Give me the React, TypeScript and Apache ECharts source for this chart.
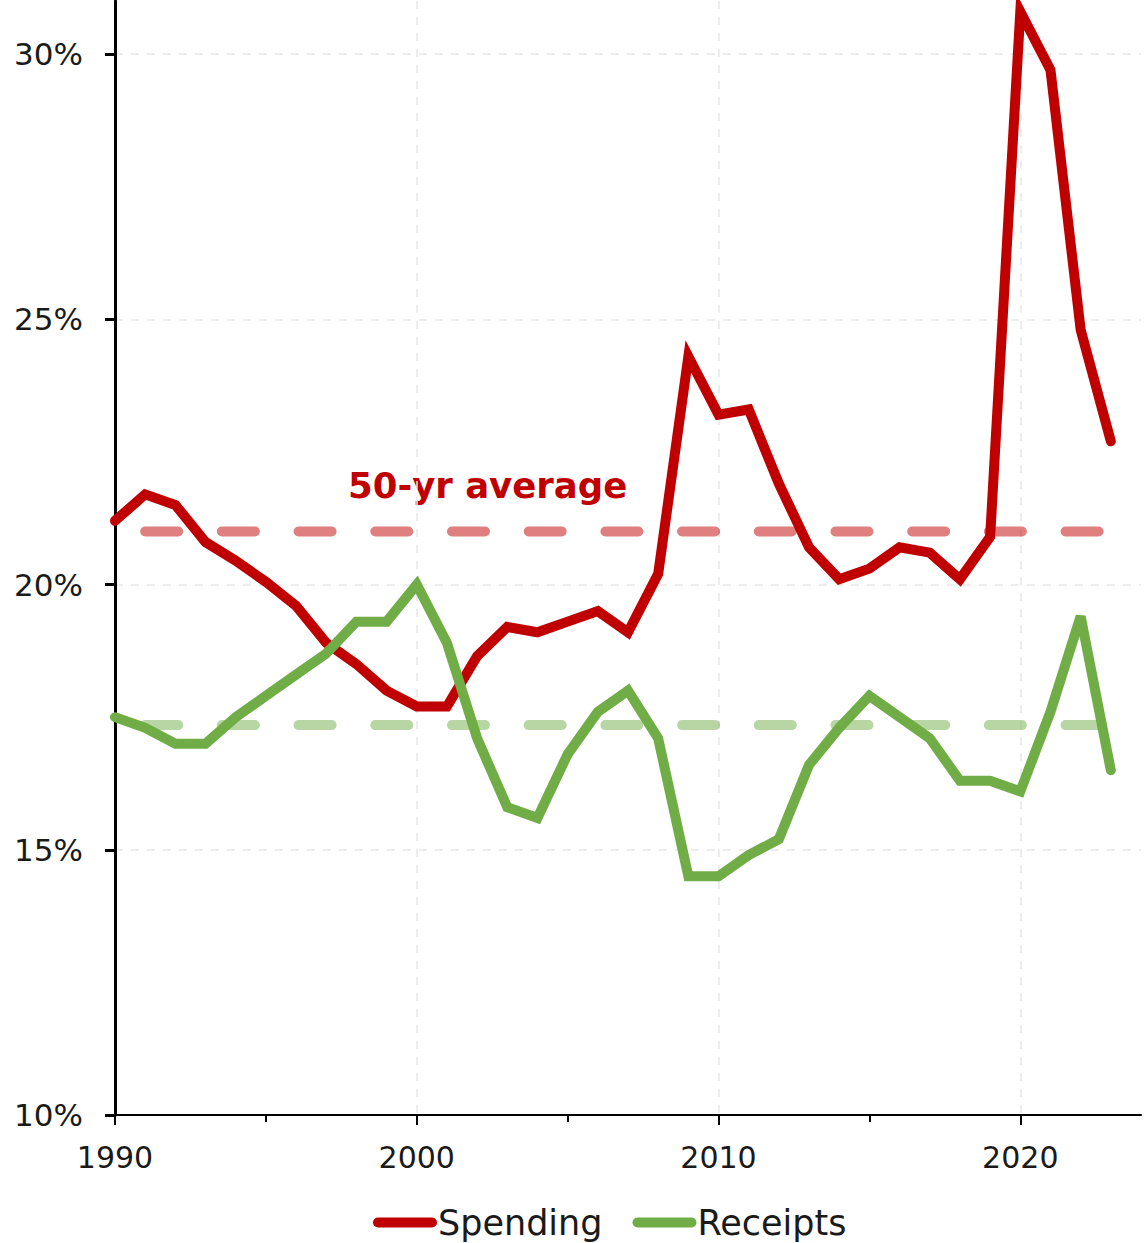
import React, { useEffect, useRef } from "react";
import * as echarts from "echarts";

const FIRST_YEAR = 1990;
const LAST_YEAR = 2024;
const years: string[] = Array.from({ length: LAST_YEAR - FIRST_YEAR + 1 }, (_, i) => String(FIRST_YEAR + i));

const spending: number[] = [
  21.2, 21.7, 21.5, 20.8, 20.45, 20.05, 19.6, 18.9, 18.5, 18.0,
  17.7, 17.7, 18.65, 19.2, 19.1, 19.3, 19.5, 19.1, 20.2, 24.3,
  23.2, 23.3, 21.9, 20.7, 20.1, 20.3, 20.7, 20.6, 20.1, 20.9,
  30.8, 29.7, 24.8, 22.7,
];
const receipts: number[] = [
  17.5, 17.3, 17.0, 17.0, 17.5, 17.9, 18.3, 18.7, 19.3, 19.3,
  20.0, 18.9, 17.1, 15.8, 15.6, 16.8, 17.6, 18.0, 17.1, 14.5,
  14.5, 14.9, 15.2, 16.6, 17.3, 17.9, 17.5, 17.1, 16.3, 16.3,
  16.1, 17.6, 19.4, 16.5,
];
const SPENDING_AVG = 21.0;
const RECEIPTS_AVG = 17.35;
const AVG_START = 1991;
const AVG_END = 2023;
const yTicks: number[] = [10, 15, 20, 25, 30];

const FONT = "'DejaVu Sans', sans-serif";
const RED = "#C00000";
const GREEN = "#70AD47";

const avgLine = (v: number) =>
  years.map((y) => (Number(y) >= AVG_START && Number(y) <= AVG_END ? v : null));

export default function App() {
  const ref = useRef<HTMLDivElement>(null);
  useEffect(() => {
    if (!ref.current) return;
    const chart = echarts.init(ref.current, null, { renderer: "svg" });
    const capsule = "path://M5,0 H59 A5,5 0 0 1 59,10 H5 A5,5 0 0 1 5,0 Z";
    chart.setOption({
      animation: false,
      backgroundColor: "#ffffff",
      grid: { left: 115, right: 5, top: 1, bottom: 128, containLabel: false },
      legend: {
        data: [
          { name: "Spending", icon: capsule },
          { name: "Receipts", icon: capsule },
        ],
        top: 1200,
        left: 368,
        itemWidth: 64,
        itemHeight: 10,
        itemGap: 30,
        textStyle: { fontFamily: FONT, fontSize: 35, color: "#1a1a1a", padding: [0, 0, 0, -4] },
      },
      xAxis: [
        {
          type: "category",
          data: years,
          boundaryGap: false,
          axisLine: { show: true, lineStyle: { color: "#000", width: 2 } },
          axisTick: {
            show: true,
            length: 10,
            interval: (i: number) => i % 10 === 0,
            lineStyle: { color: "#000", width: 2 },
          },
          axisLabel: {
            show: true,
            interval: (i: number) => i % 10 === 0,
            margin: 27,
            fontFamily: FONT,
            fontSize: 30,
            color: "#1a1a1a",
          },
          splitLine: {
            show: true,
            interval: (i: number) => i % 10 === 0 && i > 0 && i < years.length - 1,
            lineStyle: { color: "#e8e8e8", type: [8, 8], width: 1.5 },
          },
        },
        {
          type: "category",
          data: years,
          boundaryGap: false,
          position: "bottom",
          axisLine: { show: false },
          axisTick: {
            show: true,
            length: 7,
            interval: (i: number) => i % 10 === 5,
            lineStyle: { color: "#000", width: 2 },
          },
          axisLabel: { show: false },
          splitLine: { show: false },
        },
      ],
      yAxis: {
        type: "value",
        min: 10,
        max: 31,
        interval: 5,
        axisLine: { show: true, lineStyle: { color: "#000", width: 3 } },
        axisTick: {
          show: true,
          length: 10,
          customValues: yTicks,
          lineStyle: { color: "#000", width: 3 },
        },
        axisLabel: {
          margin: 32,
          fontFamily: FONT,
          fontSize: 31,
          color: "#1a1a1a",
          customValues: yTicks,
          formatter: (v: number) => (yTicks.includes(v) ? `${v}%` : ""),
        },
        splitLine: {
          show: true,
          lineStyle: { color: "#e8e8e8", type: [8, 8], width: 1.5 },
        },
      },
      series: [
        {
          name: "Spending avg",
          type: "line",
          data: avgLine(SPENDING_AVG),
          symbol: "none",
          silent: true,
          lineStyle: { color: "rgba(192,0,0,0.5)", width: 10, type: [33, 43.7], cap: "round" },
        },
        {
          name: "Receipts avg",
          type: "line",
          data: avgLine(RECEIPTS_AVG),
          symbol: "none",
          silent: true,
          lineStyle: { color: "rgba(112,173,71,0.5)", width: 10, type: [33, 43.7], cap: "round" },
        },
        {
          name: "Spending",
          type: "line",
          data: spending,
          symbol: "none",
          color: RED,
          lineStyle: { color: RED, width: 10, join: "miter", cap: "round" },
        },
        {
          name: "Receipts",
          type: "line",
          data: receipts,
          symbol: "none",
          color: GREEN,
          lineStyle: { color: GREEN, width: 10, join: "miter", cap: "round" },
        },
      ],
      graphic: [
        {
          type: "text",
          left: 348,
          top: 467,
          style: {
            text: "50-yr average",
            fontFamily: FONT,
            fontWeight: "bold",
            fontSize: 35.5,
            fill: RED,
          },
        },
      ],
    });
    return () => chart.dispose();
  }, []);
  return <div ref={ref} style={{ width: 1146, height: 1243, position: "absolute", left: 0, top: 0 }} />;
}
